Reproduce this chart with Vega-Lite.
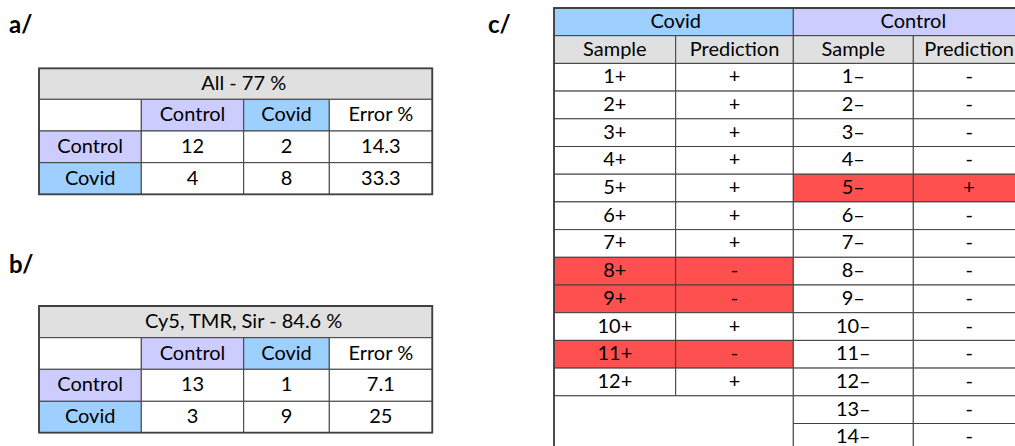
{
  "$schema": "https://vega.github.io/schema/vega-lite/v6.json",
  "width": 1015,
  "height": 446,
  "padding": 0,
  "autosize": {"type": "none"},
  "background": "white",
  "config": {"view": {"stroke": null}, "text": {"font": "Lato", "fontSize": 20, "color": "#000000"}},
  "datasets": {
    "labels": [
      {"label": "a/", "col": "left", "row": "top"},
      {"label": "b/", "col": "left", "row": "bottom"},
      {"label": "c/", "col": "right", "row": "top"}
    ],
    "tableA": [
      {"r0": 0, "r1": 1, "c0": 0, "c1": 4, "text": "All - 77 %", "kind": "header"},
      {"r0": 1, "r1": 2, "c0": 0, "c1": 1, "text": "", "kind": "blank"},
      {"r0": 1, "r1": 2, "c0": 1, "c1": 2, "text": "Control", "kind": "control"},
      {"r0": 1, "r1": 2, "c0": 2, "c1": 3, "text": "Covid", "kind": "covid"},
      {"r0": 1, "r1": 2, "c0": 3, "c1": 4, "text": "Error %", "kind": "blank"},
      {"r0": 2, "r1": 3, "c0": 0, "c1": 1, "text": "Control", "kind": "control"},
      {"r0": 2, "r1": 3, "c0": 1, "c1": 2, "text": "12", "kind": "blank"},
      {"r0": 2, "r1": 3, "c0": 2, "c1": 3, "text": "2", "kind": "blank"},
      {"r0": 2, "r1": 3, "c0": 3, "c1": 4, "text": "14.3", "kind": "blank"},
      {"r0": 3, "r1": 4, "c0": 0, "c1": 1, "text": "Covid", "kind": "covid"},
      {"r0": 3, "r1": 4, "c0": 1, "c1": 2, "text": "4", "kind": "blank"},
      {"r0": 3, "r1": 4, "c0": 2, "c1": 3, "text": "8", "kind": "blank"},
      {"r0": 3, "r1": 4, "c0": 3, "c1": 4, "text": "33.3", "kind": "blank"}
    ],
    "tableB": [
      {"r0": 0, "r1": 1, "c0": 0, "c1": 4, "text": "Cy5, TMR, Sir - 84.6 %", "kind": "header"},
      {"r0": 1, "r1": 2, "c0": 0, "c1": 1, "text": "", "kind": "blank"},
      {"r0": 1, "r1": 2, "c0": 1, "c1": 2, "text": "Control", "kind": "control"},
      {"r0": 1, "r1": 2, "c0": 2, "c1": 3, "text": "Covid", "kind": "covid"},
      {"r0": 1, "r1": 2, "c0": 3, "c1": 4, "text": "Error %", "kind": "blank"},
      {"r0": 2, "r1": 3, "c0": 0, "c1": 1, "text": "Control", "kind": "control"},
      {"r0": 2, "r1": 3, "c0": 1, "c1": 2, "text": "13", "kind": "blank"},
      {"r0": 2, "r1": 3, "c0": 2, "c1": 3, "text": "1", "kind": "blank"},
      {"r0": 2, "r1": 3, "c0": 3, "c1": 4, "text": "7.1", "kind": "blank"},
      {"r0": 3, "r1": 4, "c0": 0, "c1": 1, "text": "Covid", "kind": "covid"},
      {"r0": 3, "r1": 4, "c0": 1, "c1": 2, "text": "3", "kind": "blank"},
      {"r0": 3, "r1": 4, "c0": 2, "c1": 3, "text": "9", "kind": "blank"},
      {"r0": 3, "r1": 4, "c0": 3, "c1": 4, "text": "25", "kind": "blank"}
    ],
    "tableC": [
      {"r0": 0, "r1": 1, "c0": 0, "c1": 2, "text": "Covid", "kind": "covid"},
      {"r0": 0, "r1": 1, "c0": 2, "c1": 4, "text": "Control", "kind": "control"},
      {"r0": 1, "r1": 2, "c0": 0, "c1": 1, "text": "Sample", "kind": "header"},
      {"r0": 1, "r1": 2, "c0": 1, "c1": 2, "text": "Prediction", "kind": "header"},
      {"r0": 1, "r1": 2, "c0": 2, "c1": 3, "text": "Sample", "kind": "header"},
      {"r0": 1, "r1": 2, "c0": 3, "c1": 4, "text": "Prediction", "kind": "header"},
      {"r0": 2, "r1": 3, "c0": 0, "c1": 1, "text": "1+", "kind": "blank"},
      {"r0": 2, "r1": 3, "c0": 1, "c1": 2, "text": "+", "kind": "blank"},
      {"r0": 3, "r1": 4, "c0": 0, "c1": 1, "text": "2+", "kind": "blank"},
      {"r0": 3, "r1": 4, "c0": 1, "c1": 2, "text": "+", "kind": "blank"},
      {"r0": 4, "r1": 5, "c0": 0, "c1": 1, "text": "3+", "kind": "blank"},
      {"r0": 4, "r1": 5, "c0": 1, "c1": 2, "text": "+", "kind": "blank"},
      {"r0": 5, "r1": 6, "c0": 0, "c1": 1, "text": "4+", "kind": "blank"},
      {"r0": 5, "r1": 6, "c0": 1, "c1": 2, "text": "+", "kind": "blank"},
      {"r0": 6, "r1": 7, "c0": 0, "c1": 1, "text": "5+", "kind": "blank"},
      {"r0": 6, "r1": 7, "c0": 1, "c1": 2, "text": "+", "kind": "blank"},
      {"r0": 7, "r1": 8, "c0": 0, "c1": 1, "text": "6+", "kind": "blank"},
      {"r0": 7, "r1": 8, "c0": 1, "c1": 2, "text": "+", "kind": "blank"},
      {"r0": 8, "r1": 9, "c0": 0, "c1": 1, "text": "7+", "kind": "blank"},
      {"r0": 8, "r1": 9, "c0": 1, "c1": 2, "text": "+", "kind": "blank"},
      {"r0": 9, "r1": 10, "c0": 0, "c1": 1, "text": "8+", "kind": "error"},
      {"r0": 9, "r1": 10, "c0": 1, "c1": 2, "text": "-", "kind": "error"},
      {"r0": 10, "r1": 11, "c0": 0, "c1": 1, "text": "9+", "kind": "error"},
      {"r0": 10, "r1": 11, "c0": 1, "c1": 2, "text": "-", "kind": "error"},
      {"r0": 11, "r1": 12, "c0": 0, "c1": 1, "text": "10+", "kind": "blank"},
      {"r0": 11, "r1": 12, "c0": 1, "c1": 2, "text": "+", "kind": "blank"},
      {"r0": 12, "r1": 13, "c0": 0, "c1": 1, "text": "11+", "kind": "error"},
      {"r0": 12, "r1": 13, "c0": 1, "c1": 2, "text": "-", "kind": "error"},
      {"r0": 13, "r1": 14, "c0": 0, "c1": 1, "text": "12+", "kind": "blank"},
      {"r0": 13, "r1": 14, "c0": 1, "c1": 2, "text": "+", "kind": "blank"},
      {"r0": 14, "r1": 16, "c0": 0, "c1": 2, "text": "", "kind": "blank"},
      {"r0": 2, "r1": 3, "c0": 2, "c1": 3, "text": "1–", "kind": "blank"},
      {"r0": 2, "r1": 3, "c0": 3, "c1": 4, "text": "-", "kind": "blank"},
      {"r0": 3, "r1": 4, "c0": 2, "c1": 3, "text": "2–", "kind": "blank"},
      {"r0": 3, "r1": 4, "c0": 3, "c1": 4, "text": "-", "kind": "blank"},
      {"r0": 4, "r1": 5, "c0": 2, "c1": 3, "text": "3–", "kind": "blank"},
      {"r0": 4, "r1": 5, "c0": 3, "c1": 4, "text": "-", "kind": "blank"},
      {"r0": 5, "r1": 6, "c0": 2, "c1": 3, "text": "4–", "kind": "blank"},
      {"r0": 5, "r1": 6, "c0": 3, "c1": 4, "text": "-", "kind": "blank"},
      {"r0": 6, "r1": 7, "c0": 2, "c1": 3, "text": "5–", "kind": "error"},
      {"r0": 6, "r1": 7, "c0": 3, "c1": 4, "text": "+", "kind": "error"},
      {"r0": 7, "r1": 8, "c0": 2, "c1": 3, "text": "6–", "kind": "blank"},
      {"r0": 7, "r1": 8, "c0": 3, "c1": 4, "text": "-", "kind": "blank"},
      {"r0": 8, "r1": 9, "c0": 2, "c1": 3, "text": "7–", "kind": "blank"},
      {"r0": 8, "r1": 9, "c0": 3, "c1": 4, "text": "-", "kind": "blank"},
      {"r0": 9, "r1": 10, "c0": 2, "c1": 3, "text": "8–", "kind": "blank"},
      {"r0": 9, "r1": 10, "c0": 3, "c1": 4, "text": "-", "kind": "blank"},
      {"r0": 10, "r1": 11, "c0": 2, "c1": 3, "text": "9–", "kind": "blank"},
      {"r0": 10, "r1": 11, "c0": 3, "c1": 4, "text": "-", "kind": "blank"},
      {"r0": 11, "r1": 12, "c0": 2, "c1": 3, "text": "10–", "kind": "blank"},
      {"r0": 11, "r1": 12, "c0": 3, "c1": 4, "text": "-", "kind": "blank"},
      {"r0": 12, "r1": 13, "c0": 2, "c1": 3, "text": "11–", "kind": "blank"},
      {"r0": 12, "r1": 13, "c0": 3, "c1": 4, "text": "-", "kind": "blank"},
      {"r0": 13, "r1": 14, "c0": 2, "c1": 3, "text": "12–", "kind": "blank"},
      {"r0": 13, "r1": 14, "c0": 3, "c1": 4, "text": "-", "kind": "blank"},
      {"r0": 14, "r1": 15, "c0": 2, "c1": 3, "text": "13–", "kind": "blank"},
      {"r0": 14, "r1": 15, "c0": 3, "c1": 4, "text": "-", "kind": "blank"},
      {"r0": 15, "r1": 16, "c0": 2, "c1": 3, "text": "14–", "kind": "blank"},
      {"r0": 15, "r1": 16, "c0": 3, "c1": 4, "text": "-", "kind": "blank"}
    ]
  },
  "resolve": {"scale": {"x": "independent", "y": "independent"}},
  "layer": [
    {
      "data": {"name": "labels"},
      "mark": {"type": "text", "font": "Lato", "fontSize": 24, "fontWeight": "bold", "align": "left", "baseline": "alphabetic", "color": "#000000"},
      "encoding": {
        "x": {"field": "col", "type": "nominal", "axis": null, "scale": {"type": "point", "domain": ["left", "right"], "range": [9, 488], "padding": 0}},
        "y": {"field": "row", "type": "nominal", "axis": null, "scale": {"type": "point", "domain": ["top", "bottom"], "range": [33, 272.5], "padding": 0}},
        "text": {"field": "label"}
      }
    },
    {
      "data": {"name": "tableA"},
      "layer": [
        {
          "mark": {"type": "rect", "stroke": "#404040", "strokeWidth": 1},
          "encoding": {
            "x": {"field": "c0", "type": "quantitative", "axis": null, "scale": {"domain": [0, 1, 2, 3, 4], "range": [39, 141.3, 243.7, 329.3, 432.3], "nice": false, "zero": false}},
            "x2": {"field": "c1"},
            "y": {"field": "r0", "type": "quantitative", "axis": null, "scale": {"domain": [0, 1, 2, 3, 4], "range": [68.3, 99.3, 131, 162.7, 194.3], "nice": false, "zero": false}},
            "y2": {"field": "r1"},
            "fill": {"field": "kind", "type": "nominal", "legend": null, "scale": {"domain": ["header", "control", "covid", "error", "blank"], "range": ["#e0e0e0", "#ccccff", "#9dcfff", "#ff5050", "#ffffff"]}}
          }
        },
        {
          "transform": [{"aggregate": [{"op": "min", "field": "c0", "as": "x0"}, {"op": "max", "field": "c1", "as": "x1"}, {"op": "min", "field": "r0", "as": "y0"}, {"op": "max", "field": "r1", "as": "y1"}]}],
          "mark": {"type": "rect", "filled": false, "color": "#404040", "strokeWidth": 1.8},
          "encoding": {
            "x": {"field": "x0", "type": "quantitative"},
            "x2": {"field": "x1"},
            "y": {"field": "y0", "type": "quantitative"},
            "y2": {"field": "y1"}
          }
        },
        {
          "transform": [
            {"fold": ["c0", "c1"], "as": ["ck", "cv"]},
            {"fold": ["r0", "r1"], "as": ["rk", "rv"]},
            {"aggregate": [{"op": "mean", "field": "cv", "as": "cx"}, {"op": "mean", "field": "rv", "as": "cy"}], "groupby": ["c0", "r0", "text"]}
          ],
          "mark": {"type": "text", "baseline": "middle", "align": "center"},
          "encoding": {
            "x": {"field": "cx", "type": "quantitative"},
            "y": {"field": "cy", "type": "quantitative"},
            "text": {"field": "text"}
          }
        }
      ]
    },
    {
      "data": {"name": "tableB"},
      "layer": [
        {
          "mark": {"type": "rect", "stroke": "#404040", "strokeWidth": 1},
          "encoding": {
            "x": {"field": "c0", "type": "quantitative", "axis": null, "scale": {"domain": [0, 1, 2, 3, 4], "range": [39, 141.3, 243.7, 329.3, 432.3], "nice": false, "zero": false}},
            "x2": {"field": "c1"},
            "y": {"field": "r0", "type": "quantitative", "axis": null, "scale": {"domain": [0, 1, 2, 3, 4], "range": [306, 337.7, 369.3, 401.3, 432.7], "nice": false, "zero": false}},
            "y2": {"field": "r1"},
            "fill": {"field": "kind", "type": "nominal", "legend": null, "scale": {"domain": ["header", "control", "covid", "error", "blank"], "range": ["#e0e0e0", "#ccccff", "#9dcfff", "#ff5050", "#ffffff"]}}
          }
        },
        {
          "transform": [{"aggregate": [{"op": "min", "field": "c0", "as": "x0"}, {"op": "max", "field": "c1", "as": "x1"}, {"op": "min", "field": "r0", "as": "y0"}, {"op": "max", "field": "r1", "as": "y1"}]}],
          "mark": {"type": "rect", "filled": false, "color": "#404040", "strokeWidth": 1.8},
          "encoding": {
            "x": {"field": "x0", "type": "quantitative"},
            "x2": {"field": "x1"},
            "y": {"field": "y0", "type": "quantitative"},
            "y2": {"field": "y1"}
          }
        },
        {
          "transform": [
            {"fold": ["c0", "c1"], "as": ["ck", "cv"]},
            {"fold": ["r0", "r1"], "as": ["rk", "rv"]},
            {"aggregate": [{"op": "mean", "field": "cv", "as": "cx"}, {"op": "mean", "field": "rv", "as": "cy"}], "groupby": ["c0", "r0", "text"]}
          ],
          "mark": {"type": "text", "baseline": "middle", "align": "center"},
          "encoding": {
            "x": {"field": "cx", "type": "quantitative"},
            "y": {"field": "cy", "type": "quantitative"},
            "text": {"field": "text"}
          }
        }
      ]
    },
    {
      "data": {"name": "tableC"},
      "layer": [
        {
          "mark": {"type": "rect", "stroke": "#404040", "strokeWidth": 1, "clip": true},
          "encoding": {
            "x": {"field": "c0", "type": "quantitative", "axis": null, "scale": {"domain": [0, 1, 2, 3, 4], "range": [554, 675.7, 793.3, 913.3, 1025], "nice": false, "zero": false}},
            "x2": {"field": "c1"},
            "y": {"field": "r0", "type": "quantitative", "axis": null, "scale": {"domain": [0, 16], "range": [8, 451.2], "nice": false, "zero": false}},
            "y2": {"field": "r1"},
            "fill": {"field": "kind", "type": "nominal", "legend": null, "scale": {"domain": ["header", "control", "covid", "error", "blank"], "range": ["#e0e0e0", "#ccccff", "#9dcfff", "#ff5050", "#ffffff"]}}
          }
        },
        {
          "transform": [{"aggregate": [{"op": "min", "field": "c0", "as": "x0"}, {"op": "max", "field": "c1", "as": "x1"}, {"op": "min", "field": "r0", "as": "y0"}, {"op": "max", "field": "r1", "as": "y1"}]}],
          "mark": {"type": "rect", "filled": false, "color": "#404040", "strokeWidth": 1.8, "clip": true},
          "encoding": {
            "x": {"field": "x0", "type": "quantitative"},
            "x2": {"field": "x1"},
            "y": {"field": "y0", "type": "quantitative"},
            "y2": {"field": "y1"}
          }
        },
        {
          "transform": [
            {"fold": ["c0", "c1"], "as": ["ck", "cv"]},
            {"fold": ["r0", "r1"], "as": ["rk", "rv"]},
            {"aggregate": [{"op": "mean", "field": "cv", "as": "cx"}, {"op": "mean", "field": "rv", "as": "cy"}], "groupby": ["c0", "r0", "text"]}
          ],
          "mark": {"type": "text", "baseline": "middle", "align": "center", "clip": true},
          "encoding": {
            "x": {"field": "cx", "type": "quantitative"},
            "y": {"field": "cy", "type": "quantitative"},
            "text": {"field": "text"}
          }
        }
      ]
    }
  ]
}
